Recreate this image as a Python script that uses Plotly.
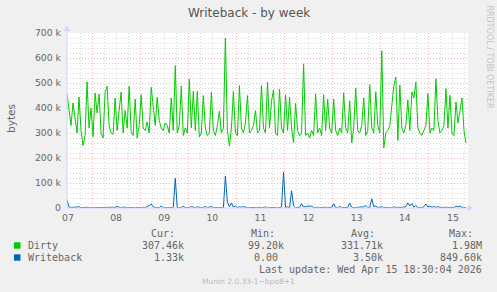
import plotly.graph_objects as go
from datetime import datetime, timedelta

# ---------------- data (values in k bytes, hourly samples) ----------------
start_time = datetime(2026, 4, 6, 23, 30)

dirty_k = [
    456, 393, 330, 420, 353, 300, 444, 310, 250, 290,
    504, 320, 400, 285, 460, 380, 456, 300, 280, 463,
    487, 330, 300, 295, 440, 310, 390, 464, 300, 390,
    320, 487, 305, 290, 436, 280, 330, 453, 320, 310,
    345, 300, 483, 390, 330, 444, 350, 320, 310, 340,
    330, 300, 440, 310, 570, 300, 330, 487, 290, 320,
    300, 516, 320, 467, 310, 467, 285, 300, 450, 320,
    290, 300, 463, 310, 290, 330, 387, 300, 320, 680,
    310, 247, 320, 467, 300, 290, 490, 320, 300, 340,
    450, 300, 310, 330, 390, 300, 310, 490, 320, 300,
    503, 320, 427, 473, 300, 290, 476, 320, 300, 453,
    310, 444, 320, 260, 420, 310, 290, 300, 577, 290,
    300, 280, 310, 290, 457, 300, 320, 290, 453, 310,
    435, 320, 300, 435, 310, 290, 320, 300, 461, 320,
    300, 429, 260, 320, 480, 310, 300, 330, 440, 290,
    310, 493, 320, 300, 465, 330, 300, 629, 240, 300,
    310, 330, 400, 489, 524, 270, 492, 320, 300, 330,
    433, 310, 464, 440, 504, 320, 300, 290, 310, 330,
    457, 300, 320, 310, 517, 350, 300, 310, 330, 477,
    320, 451, 300, 290, 424, 340, 390, 440, 310, 260,
]

writeback_k = [
    33, 4, 2, 3, 1, 2, 5, 1, 2, 1,
    3, 1, 1, 2, 1, 4, 1, 2, 1, 1,
    2, 1, 1, 1, 3, 6, 2, 1, 4, 1,
    1, 2, 1, 1, 1, 2, 1, 1, 3, 1,
    6, 9, 16, 5, 2, 3, 1, 8, 2, 1,
    2, 1, 3, 2, 119, 2, 1, 2, 7, 1,
    2, 1, 6, 2, 1, 5, 2, 1, 3, 6,
    1, 4, 6, 1, 2, 3, 1, 2, 1, 128,
    24, 5, 20, 3, 8, 2, 5, 3, 6, 2,
    1, 2, 3, 1, 2, 1, 3, 1, 2, 4,
    1, 2, 3, 1, 2, 1, 2, 3, 143, 2,
    5, 1, 69, 10, 2, 1, 3, 17, 4, 6,
    8, 8, 7, 2, 1, 3, 1, 2, 1, 3,
    1, 2, 3, 17, 2, 1, 7, 2, 1, 3,
    2, 20, 3, 1, 2, 1, 3, 2, 5, 10,
    2, 3, 37, 6, 8, 2, 3, 5, 2, 1,
    3, 2, 1, 5, 2, 3, 1, 2, 4, 6,
    20, 8, 18, 3, 10, 2, 3, 1, 5, 16,
    4, 8, 3, 6, 2, 5, 3, 1, 2, 3,
    1, 2, 3, 1, 8, 4, 8, 2, 3, 1,
]

day_ticks = [datetime(2026, 4, d) for d in range(7, 16)]
day_labels = ["07", "08", "09", "10", "11", "12", "13", "14", "15"]
noon_start = datetime(2026, 4, 7, 12)

y_tick_vals = [0, 100000, 200000, 300000, 400000, 500000, 600000, 700000]
y_tick_text = ["0", "100 k", "200 k", "300 k", "400 k", "500 k", "600 k", "700 k"]

series_names = ["Dirty", "Writeback"]
series_colors = ["#00CC00", "#0066B3"]
cur_vals = ["307.46k", "1.33k"]
min_vals = ["99.20k", "0.00"]
avg_vals = ["331.71k", "3.50k"]
max_vals = ["1.98M", "849.60k"]
last_update = "Last update: Wed Apr 15 18:30:04 2026"
title_text = "Writeback - by week"
footer_text = "Munin 2.0.33-1~bpo8+1"
side_text = "RRDTOOL / TOBI OETIKER"

# ---------------- layout geometry ----------------
W, H = 497, 292
L, R, T, B = 67, 468, 33, 208

def px(x):
    return (x - L) / (R - L)

def py(y):
    return (B - y) / (B - T)

times = [start_time + timedelta(hours=i) for i in range(len(dirty_k))]
x_end = start_time + timedelta(hours=200)

FONT = "DejaVu Sans"
MONO = "DejaVu Sans Mono"
TXT = "#666666"
AXIS = "#CFD6F8"
MINOR = "#D8D8D8"
MAJOR = "#F2B4B4"

fig = go.Figure()
fig.add_trace(go.Scatter(x=times, y=[v * 1000 for v in dirty_k], mode="lines",
                         line=dict(color=series_colors[0], width=1), hoverinfo="skip"))
fig.add_trace(go.Scatter(x=times, y=[v * 1000 for v in writeback_k], mode="lines",
                         line=dict(color=series_colors[1], width=1), hoverinfo="skip"))
# invisible trace for overlay axis carrying noon gridlines
fig.add_trace(go.Scatter(x=[start_time], y=[None], xaxis="x2", mode="lines",
                         hoverinfo="skip"))

fig.update_layout(
    width=W, height=H,
    margin=dict(l=L, r=W - R, t=T, b=H - B, pad=0),
    paper_bgcolor="#F0F0F0", plot_bgcolor="#FFFFFF",
    showlegend=False,
    xaxis=dict(
        range=[start_time, x_end], tickmode="array", tickvals=day_ticks, ticktext=day_labels,
        showgrid=True, gridcolor=MINOR, griddash="1px,2px", gridwidth=1,
        minor=dict(dtick=6 * 3600 * 1000, tick0=datetime(2026, 4, 7), showgrid=True,
                   gridcolor=MINOR, griddash="1px,2px", gridwidth=1, ticks=""),
        showline=False, zeroline=False, ticks="",
        tickfont=dict(family=FONT, size=9.3, color=TXT),
        ticklabelstandoff=3,
    ),
    xaxis2=dict(
        overlaying="x", range=[start_time, x_end], tickmode="linear", tick0=noon_start,
        dtick=86400000, showgrid=True, gridcolor=MAJOR, griddash="1px,2px", gridwidth=1,
        showticklabels=False, ticks="", showline=False, zeroline=False,
    ),
    yaxis=dict(
        range=[0, 700000], tickmode="array", tickvals=y_tick_vals, ticktext=y_tick_text,
        showgrid=True, gridcolor=MAJOR, griddash="1px,2px", gridwidth=1,
        minor=dict(dtick=20000, tick0=0, showgrid=True, gridcolor=MINOR,
                   griddash="1px,2px", gridwidth=1, ticks=""),
        showline=False, zeroline=False, ticks="",
        tickfont=dict(family=FONT, size=9.3, color=TXT),
        ticklabelstandoff=5,
    ),
)

shapes = []
# axes lines with arrows
shapes.append(dict(type="line", xref="paper", yref="paper", x0=px(L), x1=px(471), y0=py(B), y1=py(B),
                   line=dict(color=AXIS, width=1)))
shapes.append(dict(type="line", xref="paper", yref="paper", x0=px(L), x1=px(L), y0=py(B), y1=py(29),
                   line=dict(color=AXIS, width=1)))
shapes.append(dict(type="path", xref="paper", yref="paper",
                   path=f"M {px(468)} {py(205)} L {px(473)} {py(208)} L {px(468)} {py(211)} Z",
                   fillcolor=AXIS, line=dict(color=AXIS, width=0.5)))
shapes.append(dict(type="path", xref="paper", yref="paper",
                   path=f"M {px(64)} {py(31)} L {px(67)} {py(26)} L {px(70)} {py(31)} Z",
                   fillcolor=AXIS, line=dict(color=AXIS, width=0.5)))
# legend colour boxes
row_y = [245.5, 257.5]
for i, c in enumerate(series_colors):
    shapes.append(dict(type="rect", xref="paper", yref="paper",
                       x0=px(14), x1=px(20.5), y0=py(row_y[i] - 3.2), y1=py(row_y[i] + 3.2),
                       fillcolor=c, line=dict(width=0)))
fig.update_layout(shapes=shapes)

ann = []
def text(x, y, s, size, color=TXT, family=FONT, xanchor="left", angle=0):
    ann.append(dict(x=px(x), y=py(y), xref="paper", yref="paper", text=s, showarrow=False,
                    xanchor=xanchor, yanchor="middle", textangle=angle,
                    font=dict(family=family, size=size, color=color)))

text(248.5, 13, title_text, 12, color="#555555", xanchor="center")
text(11, 119, "bytes", 10.5, xanchor="center", angle=-90)
text(489, 56.5, side_text, 8, color="#C4C4C4", xanchor="center", angle=90)

hdr_y = 233.5
text(149, hdr_y, "Cur:", 10, family=MONO)
text(249, hdr_y, "Min:", 10, family=MONO)
text(349, hdr_y, "Avg:", 10, family=MONO)
text(447, hdr_y, "Max:", 10, family=MONO)
for i in range(2):
    y = row_y[i]
    text(26, y, series_names[i], 10, family=MONO)
    text(186, y, cur_vals[i], 10, family=MONO, xanchor="right")
    text(286 if min_vals[i].endswith("k") else 280, y, min_vals[i], 10, family=MONO, xanchor="right")
    text(385, y, avg_vals[i], 10, family=MONO, xanchor="right")
    text(484, y, max_vals[i], 10, family=MONO, xanchor="right")
text(484, 269.5, last_update, 10, family=MONO, xanchor="right")
text(248, 281.5, footer_text, 7.5, color="#BBBBBB", xanchor="center")
fig.update_layout(annotations=ann)

fig.write_html("out.html")
